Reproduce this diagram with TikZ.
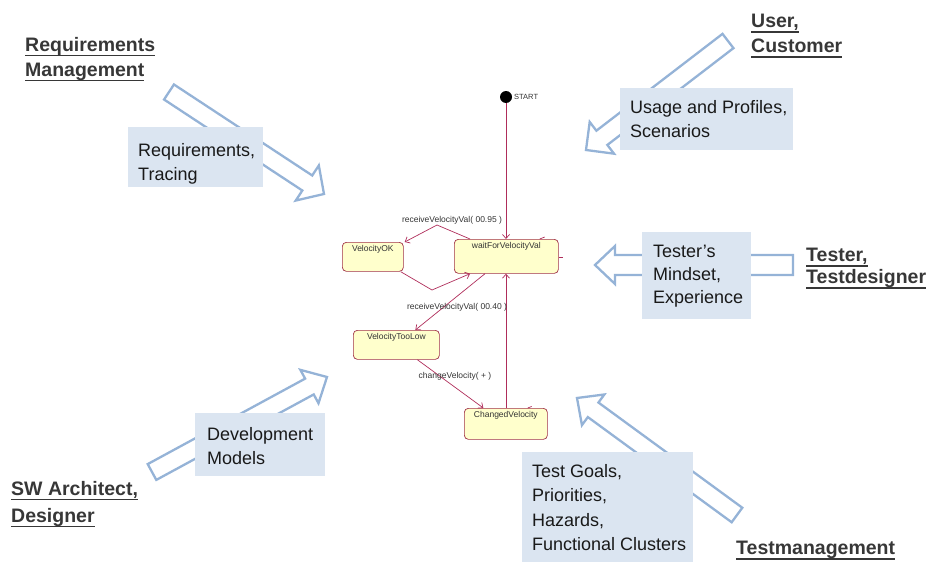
\documentclass[tikz,border=0pt]{standalone}
\usepackage{fontspec}
\setmainfont{Liberation Sans}
\usetikzlibrary{arrows.meta,calc}
\definecolor{boxblue}{RGB}{219,229,241}
\definecolor{arrblue}{RGB}{149,179,215}
\definecolor{stfill}{RGB}{255,255,204}
\definecolor{stborder}{RGB}{160,50,70}
\definecolor{trcol}{RGB}{175,45,90}
\definecolor{lblgray}{RGB}{55,55,55}
\newcommand\ulx[1]{\leavevmode\setbox0\hbox{#1}\rlap{\raisebox{-5pt}{\rule{\wd0}{1.5pt}}}\box0}
\tikzset{
  blockarrow/.style={draw=arrblue, line width=2.3pt, fill=white, line join=miter},
  bluebox/.style={fill=boxblue, draw=none, inner sep=0pt, anchor=north west},
  boxtext/.style={anchor=north west, inner sep=0pt, align=left, text=black!90,
     font=\fontsize{18}{24.5}\selectfont},
  biglabel/.style={anchor=north west, inner sep=0pt, align=left, text=lblgray,
     font=\fontsize{19.5}{25}\selectfont\bfseries},
  state/.style={draw=stborder, fill=stfill, rounded corners=4pt, line width=0.7pt,
     inner sep=0pt, anchor=north west},
  sttext/.style={font=\fontsize{8.5}{10}\selectfont, text=black!80, inner sep=0pt},
  trans/.style={draw=trcol, line width=0.7pt, -{Straight Barb[length=4pt,width=7pt]}},
  plain/.style={draw=trcol, line width=0.7pt},
}
\newcommand\blockarr[7]{%
  \pgfmathsetmacro\bdx{#3-#1}%
  \pgfmathsetmacro\bdy{#2-#4}%
  \pgfmathsetmacro\blen{veclen(\bdx,\bdy)}%
  \pgfmathsetmacro\bang{atan2(\bdy,\bdx)}%
  \pgfmathsetmacro\bhb{\blen-#7}%
  \draw[blockarrow,shift={(#1,-#2)},rotate=\bang] (0,-#5/2) -- (\bhb,-#5/2) -- (\bhb,-#6/2) -- (\blen,0) -- (\bhb,#6/2) -- (\bhb,#5/2) -- (0,#5/2) -- cycle;}
\begin{document}
\begin{tikzpicture}[x=1pt,y=1pt]
\useasboundingbox (0,0) rectangle (930,-562);
% block arrows
\blockarr{169}{92}{324}{194}{18}{42}{20}
\blockarr{728}{41}{586}{150}{18}{40}{20}
\blockarr{793}{265}{595}{265}{20}{38}{20}
\blockarr{152}{472}{327}{377}{18}{38}{20}
\blockarr{737}{515}{577}{398}{18}{38}{20}
% blue boxes
\node[bluebox, minimum width=135, minimum height=60] (reqbox) at (128,-127) {};
\node[boxtext] (reqtxt) at (138,-143) {Requirements,\\Tracing};
\node[bluebox, minimum width=173, minimum height=62] (usebox) at (620,-88) {};
\node[boxtext] (usetxt) at (630,-100) {Usage and Profiles,\\Scenarios};
\node[bluebox, minimum width=109, minimum height=87] (tstbox) at (642,-232) {};
\node[boxtext, font=\fontsize{18}{23}\selectfont] (tsttxt) at (653,-245) {Tester's\\Mindset,\\Experience};
\node[bluebox, minimum width=130, minimum height=63] (devbox) at (195,-413) {};
\node[boxtext] (devtxt) at (207,-427) {Development\\Models};
\node[bluebox, minimum width=171, minimum height=110] (goalbox) at (522,-452) {};
\node[boxtext] (goaltxt) at (532,-464) {Test Goals,\\Priorities,\\Hazards,\\Functional Clusters};
% big labels
\node[biglabel] (reqmgmt) at (25,-37) {\ulx{Requirements}\\\ulx{Management}};
\node[biglabel] (user) at (751,-14) {\ulx{User,}\\\ulx{Customer}};
\node[biglabel, font=\fontsize{19.5}{22}\selectfont\bfseries] (tester) at (806,-248) {\ulx{Tester,}\\\ulx{Testdesigner}};
\node[biglabel, font=\fontsize{19.5}{27}\selectfont\bfseries] (swarch) at (11,-481) {\ulx{SW Architect,}\\\ulx{Designer}};
\node[biglabel] (tmgmt) at (736,-541) {\ulx{Testmanagement}};
% state machine
\node[circle, fill=black, minimum size=12, inner sep=0pt] (start) at (506,-97) {};
\node[anchor=west, inner sep=0pt, font=\fontsize{7.5}{9}\selectfont, text=black!80] (starttxt) at (514,-97) {START};
\node[state, minimum width=61, minimum height=29] (ok) at (342,-242) {};
\node[sttext, anchor=north] (oktxt) at ([yshift=-3pt]ok.north) {VelocityOK};
\node[state, minimum width=104, minimum height=34] (wait) at (454,-239) {};
\node[sttext, anchor=north] (waittxt) at ([yshift=-3pt]wait.north) {waitForVelocityVal};
\node[state, minimum width=86, minimum height=29] (low) at (353,-330) {};
\node[sttext, anchor=north] (lowtxt) at ([yshift=-3pt]low.north) {VelocityTooLow};
\node[state, minimum width=83, minimum height=31] (chg) at (464,-408) {};
\node[sttext, anchor=north] (chgtxt) at ([yshift=-3pt]chg.north) {ChangedVelocity};
\coordinate (peak) at (437,-225);
\coordinate (valley) at (432,-290);
\draw[trans] (start.south) -- (start.south |- wait.north);
\draw[trans] ([xshift=16pt]wait.north west) -- (peak) -- ([xshift=1pt]ok.north east);
\draw[trans] ([xshift=-3pt]ok.south east) -- (valley) -- ([xshift=16pt]wait.south west);
\draw[trans] ([xshift=31pt]wait.south west) -- ([xshift=19pt]low.north);
\draw[trans] ([xshift=21pt]low.south) -- ([xshift=-22.5pt]chg.north);
\draw[trans] (chg.north -| start) -- (wait.south -| start);
\draw[plain] ([xshift=-19pt]wait.north east) -- ++(5,2);
\draw[plain] ([yshift=-1pt]wait.east) -- ++(4,0);
\draw[plain] ([xshift=-20pt]chg.north east) -- ++(4,1.5);
\node[sttext] (l1) at (452,-220) {receiveVelocityVal( 00.95 )};
\node[sttext] (l2) at (457,-307) {receiveVelocityVal( 00.40 )};
\node[sttext] (l3) at (455,-376) {changeVelocity( + )};
\end{tikzpicture}
\end{document}
